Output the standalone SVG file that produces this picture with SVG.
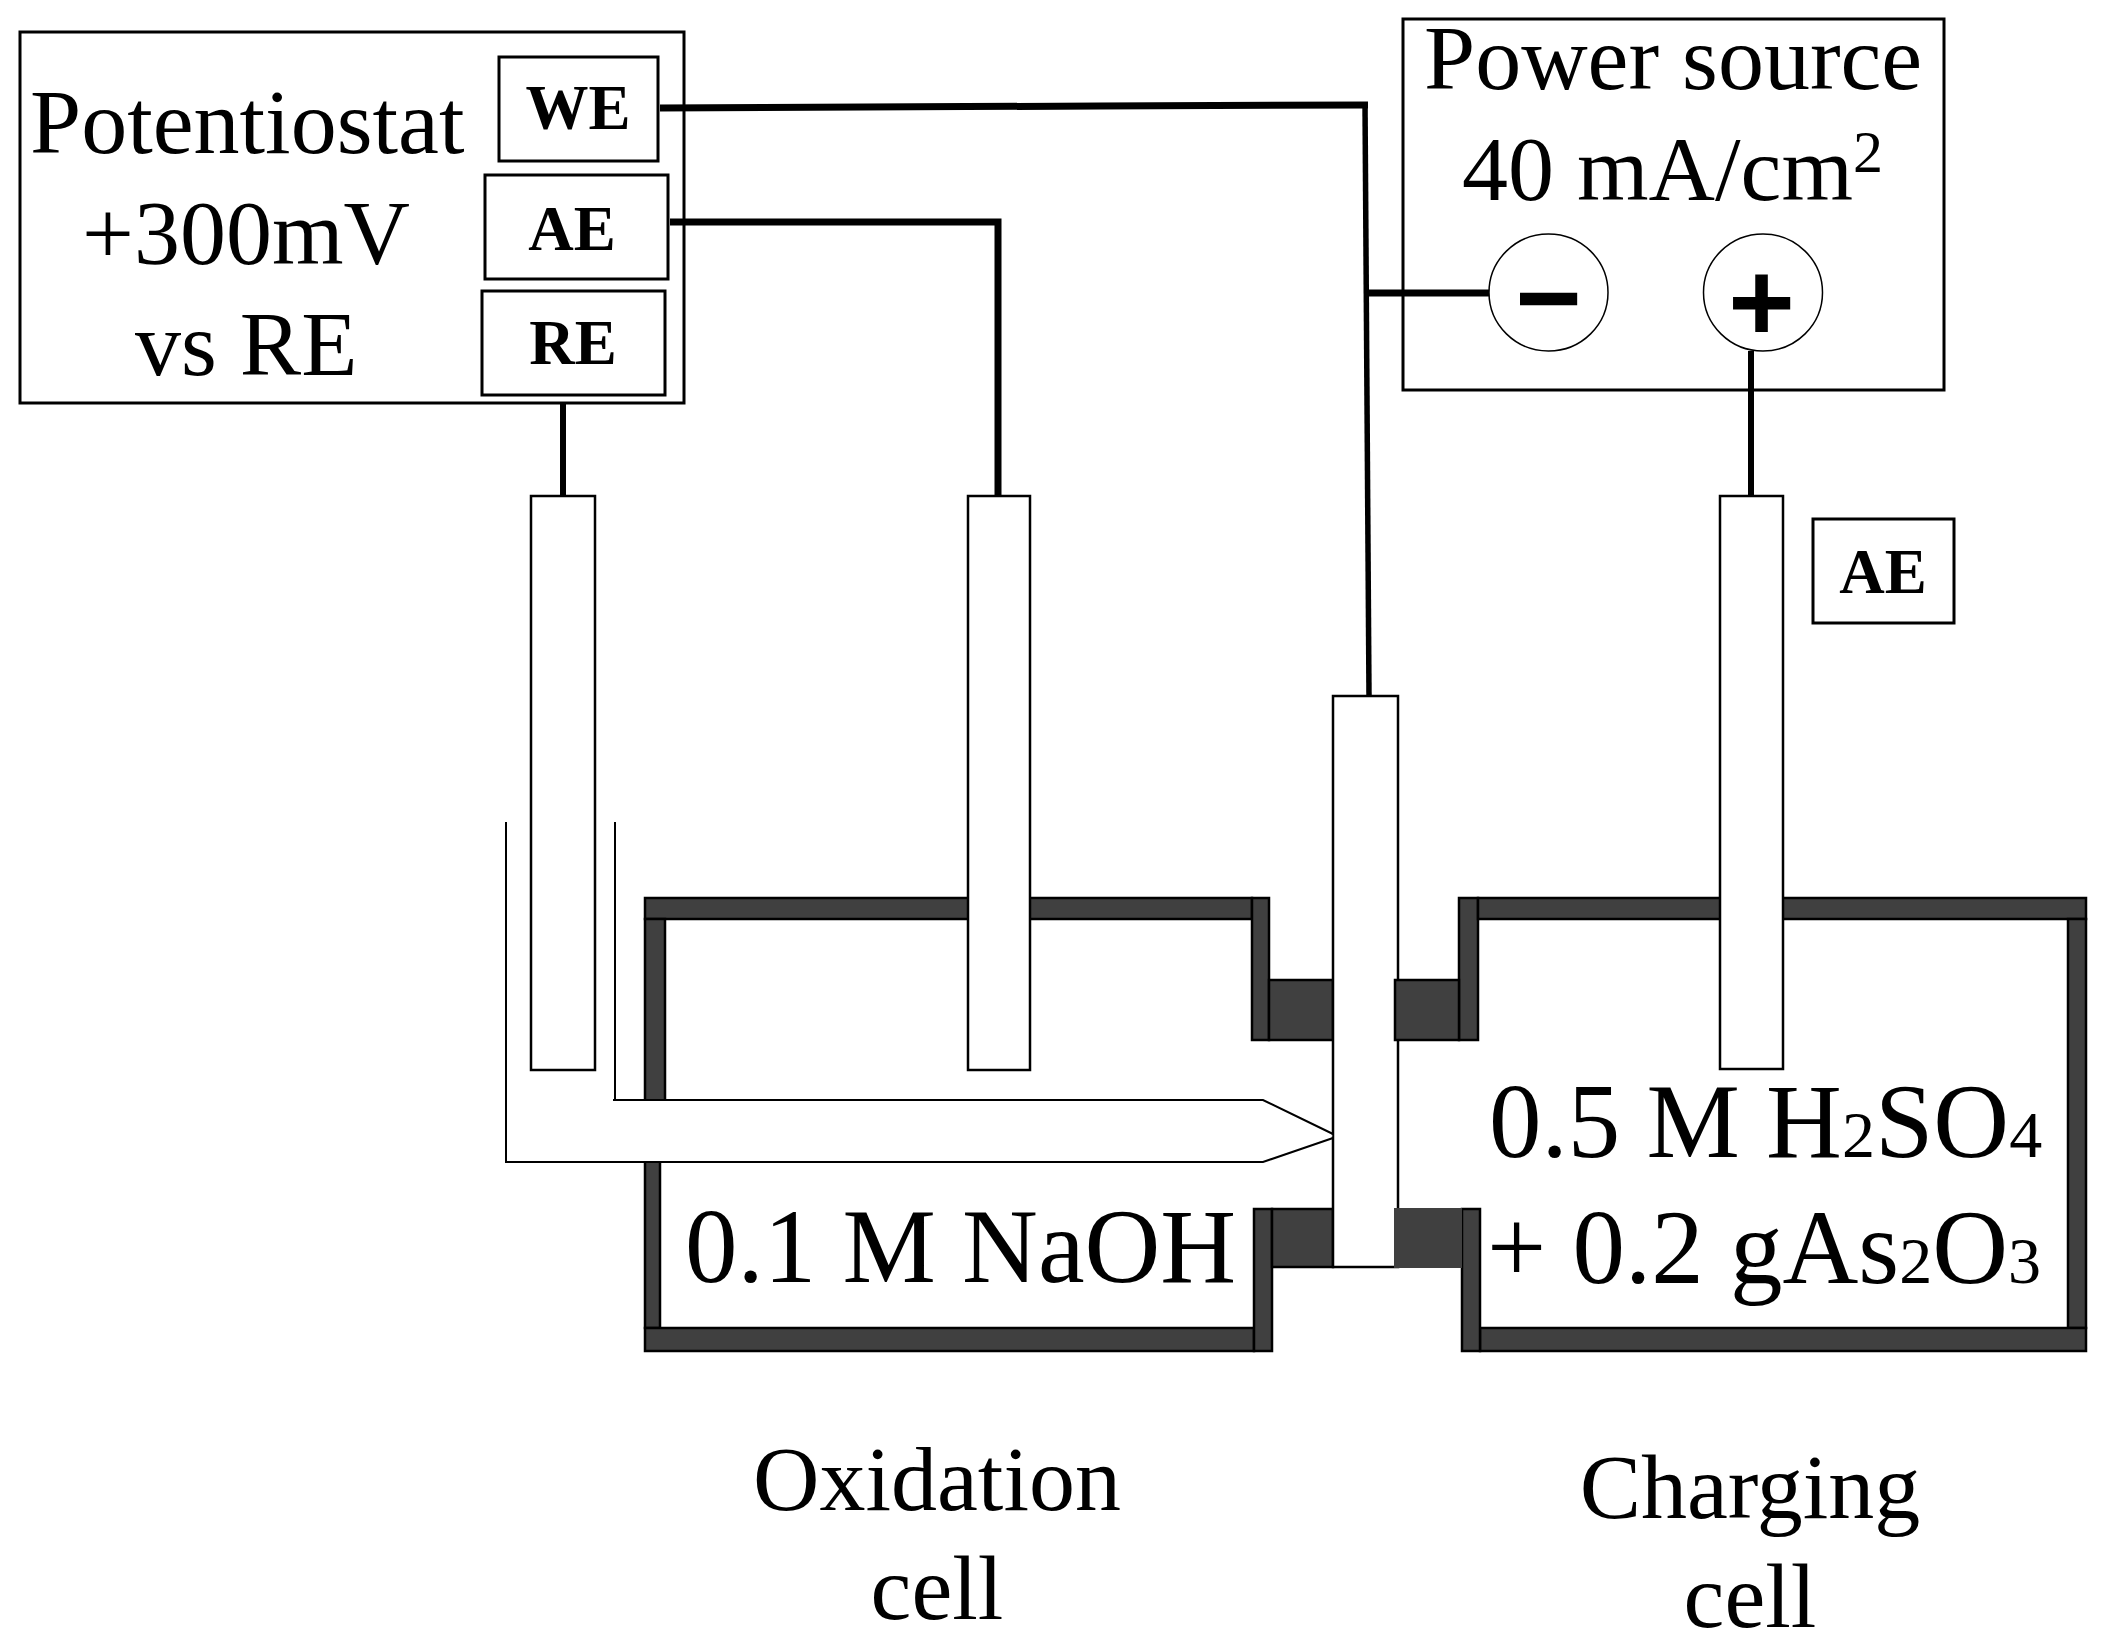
<svg xmlns="http://www.w3.org/2000/svg" width="2104" height="1641" viewBox="0 0 2104 1641">
<style>
text{font-family:"Liberation Serif","Times New Roman",serif;fill:#000}
.l{font-size:92px}
.m{font-size:105px}
.sub{font-size:66px}
.b{font-size:63px;font-weight:bold;text-anchor:middle}
.s{font-size:60px}
.box{fill:#fff;stroke:#000;stroke-width:3}
.el{fill:#fff;stroke:#000;stroke-width:2.5}
.wall{fill:#404040;stroke:#000;stroke-width:2.5}
.wire{fill:none;stroke:#000;stroke-width:6}
.sign{font-family:"Liberation Sans",Arial,sans-serif;font-weight:bold;font-size:114px;text-anchor:middle}
.term{fill:#fff;stroke:#000;stroke-width:1.5}
</style>
<rect width="2104" height="1641" fill="#fff"/>
<g id="oxidation-cell">
<rect class="wall" x="645" y="898" width="607" height="21"/>
<rect class="wall" x="645" y="919" width="20" height="186"/>
<rect class="wall" x="645" y="1155" width="15" height="173"/>
<rect class="wall" x="645" y="1328" width="609" height="23"/>
<rect class="wall" x="1252" y="898" width="17" height="142"/>
<rect class="wall" x="1269" y="980" width="64" height="60"/>
<rect class="wall" x="1254" y="1209" width="18" height="142"/>
<rect class="wall" x="1272" y="1209" width="61" height="58"/>
</g>
<g id="working-electrode"><rect class="el" x="1333" y="696" width="65" height="571"/></g>
<g id="charging-cell">
<rect class="wall" x="1459" y="898" width="19" height="142"/>
<rect class="wall" x="1478" y="898" width="608" height="21"/>
<rect class="wall" x="2068" y="919" width="18" height="409"/>
<rect class="wall" x="1480" y="1328" width="606" height="23"/>
<rect class="wall" x="1462" y="1209" width="18" height="142"/>
<rect class="wall" x="1395" y="980" width="64" height="60"/>
<rect x="1394" y="1208" width="68" height="60" fill="#404040"/>
</g>
<g id="luggin-capillary">
<path d="M506 822 V1162 H1263 L1333 1136 L1263 1100 H615 V822" fill="#fff" stroke="none"/>
<path d="M506 822 V1162 H1263 L1333 1138 M1333 1134 L1263 1100 H613 M615 1100 V822" fill="none" stroke="#000" stroke-width="2"/>
</g>
<g id="re-electrode"><rect class="el" x="531" y="496" width="64" height="574"/></g>
<g id="ae-electrode"><rect class="el" x="968" y="496" width="62" height="574"/></g>
<g id="charging-ae-electrode"><rect class="el" x="1720" y="496" width="63" height="573"/></g>
<g id="potentiostat">
<rect class="box" x="20" y="32" width="664" height="371"/>
<text class="l" x="30" y="153">Potentiostat</text>
<text class="l" x="82" y="264">+300mV</text>
<text class="l" x="135" y="375">vs RE</text>
</g>
<g id="we-terminal"><rect class="box" x="499" y="57" width="159" height="104"/><text class="b" x="578" y="129">WE</text></g>
<g id="ae-terminal"><rect class="box" x="485" y="175" width="183" height="104"/><text class="b" x="572" y="250">AE</text></g>
<g id="re-terminal"><rect class="box" x="482" y="291" width="183" height="104"/><text class="b" x="573" y="364">RE</text></g>
<g id="connectors">
<path class="wire" d="M660 108 L1100 106 L1368 105" style="stroke-width:7"/>
<path class="wire" d="M1365 103 L1369 696" style="stroke-width:5.5"/>
<path class="wire" d="M670 222 H998 V496" style="stroke-width:7"/>
<path class="wire" d="M563 403 V496"/>
<path class="wire" d="M1369 293 H1490" style="stroke-width:7"/>
<path class="wire" d="M1751 351 V496"/>
</g>
<g id="power-source">
<rect x="1403" y="19" width="541" height="371" fill="none" stroke="#000" stroke-width="3"/>
<text class="l" x="1424" y="89">Power source</text>
<text class="l" x="1462" y="200">40 mA/cm</text>
<text class="s" x="1853" y="172">2</text>
</g>
<g id="minus-terminal"><ellipse class="term" cx="1548.5" cy="292.5" rx="59.5" ry="58.5"/><text class="sign" x="1548.5" y="337">−</text></g>
<g id="plus-terminal"><ellipse class="term" cx="1763" cy="292.5" rx="59.5" ry="58.5"/><text class="sign" x="1761.5" y="341">+</text></g>
<g id="charging-ae-label"><rect class="box" x="1813" y="519" width="141" height="104"/><text class="b" x="1883" y="593">AE</text></g>
<g id="cell-texts">
<text class="m" x="685" y="1282">0.1 M NaOH</text>
<text class="m" x="1489" y="1157">0.5 M H<tspan class="sub">2</tspan>SO<tspan class="sub">4</tspan></text>
<text class="m" x="1487" y="1283">+ 0.2 gAs<tspan class="sub">2</tspan>O<tspan class="sub">3</tspan></text>
</g>
<g id="oxidation-label">
<text class="l" x="937" y="1510" text-anchor="middle">Oxidation</text>
<text class="l" x="937" y="1619" text-anchor="middle">cell</text>
</g>
<g id="charging-label">
<text class="l" x="1750" y="1518" text-anchor="middle">Charging</text>
<text class="l" x="1750" y="1627" text-anchor="middle">cell</text>
</g>
</svg>
